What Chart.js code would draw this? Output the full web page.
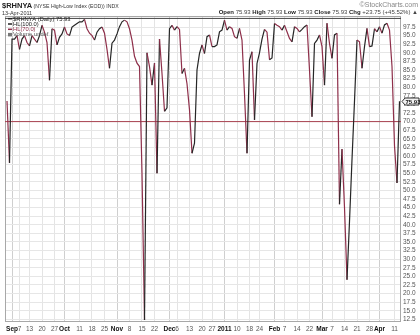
<!DOCTYPE html>
<html>
<head>
<meta charset="utf-8">
<script src="https://cdn.jsdelivr.net/npm/chart.js@4.4.0/dist/chart.umd.min.js"></script>
<style>
  html, body { margin: 0; padding: 0; background: #fff; }
  canvas { display: block; }
</style>
</head>
<body>
<canvas id="chart" width="420" height="335"></canvas>
<script>
// $RHNYA daily values, 30-Aug-2010 .. 13-Apr-2011 (one per trading day)
const values = [
  76, 58, 94, 94, 95, 91, 94, 95, 93, 92,
  95, 94, 93, 95, 98, 96, 93, 82, 97, 96.6,
  92.3, 94.5, 95.5, 97.5, 95.5, 95, 97.5, 98, 98.5, 99,
  99, 99.7, 97, 95.7, 95, 93.7, 96, 97, 97.5, 95.7,
  91, 85.5, 92.8, 93.7, 95.5, 97.6, 99, 99.5, 99, 97,
  93.7, 89, 87, 86, 55, 12.3, 90, 86, 80.6, 87,
  55, 94, 84, 73, 74, 97, 98, 96.6, 97.6, 96.8,
  84, 85.5, 81, 73.4, 60.8, 63.7, 85, 89.8, 92.3, 89.8,
  94.7, 95.2, 91.8, 91.8, 92.3, 96.1, 96.6, 99.5, 96.6, 97.6,
  97.1, 94.7, 94.2, 97.1, 93.7, 78, 60.8, 87.9, 90.3, 70.5,
  86.9, 90, 94, 96.8, 96, 88, 88.5, 98.5, 98, 97.6,
  96.6, 98, 96.1, 94.2, 93.2, 97.6, 97.1, 96.1, 96.8, 97.6,
  98.1, 85, 71.4, 92.7, 93.7, 95.2, 91.8, 80.6, 98.6, 92.7,
  88.4, 95.2, 95.7, 46, 62, 45, 24, 41, 59, 76,
  93.7, 93.2, 85.5, 91.8, 97.1, 91.8, 92, 97, 96.1, 97.6,
  95.7, 98.1, 98.6, 96.6, 86, 63, 52.18, 75.93
];

// x-axis ticks: trading-day index and label
const tickPos  = [2, 5, 9, 14, 19, 23, 29, 34, 39, 44, 49, 54, 59, 65, 68, 73, 78, 82,
                  87, 92, 97, 101, 107, 111, 116, 121, 126, 130, 135, 140, 145, 149, 155];
const tickText = ['Sep', '7', '13', '20', '27', 'Oct', '11', '18', '25', 'Nov', '8', '15', '22',
                  'Dec', '6', '13', '20', '27', '2011', '10', '18', '24', 'Feb', '7', '14', '22',
                  'Mar', '7', '14', '21', '28', 'Apr', '11'];
const monthLabels = ['Sep', 'Oct', 'Nov', 'Dec', '2011', 'Feb', 'Mar', 'Apr'];

const yTicks = [12.5, 15, 17.5, 20, 22.5, 25, 27.5, 30, 32.5, 35, 37.5, 40, 42.5, 45, 47.5,
                50, 52.5, 55, 57.5, 60, 62.5, 65, 67.5, 70, 72.5, 75, 77.5, 80, 82.5, 85,
                87.5, 90, 92.5, 95, 97.5];

const hlHigh = 100;
const hlLow = 70;

const X_MIN = -0.8, X_MAX = 157.6;
const FONT = '"Liberation Sans", Arial, sans-serif';
const UP = '#262626';
const DOWN = '#8e2f4a';

function drawRuns(ctx, x, y, parts, align) {
  // parts: [text, size, bold, color]
  let total = 0;
  parts.forEach(p => {
    ctx.font = (p[2] ? 'bold ' : '') + p[1] + 'px ' + FONT;
    p.w = ctx.measureText(p[0]).width;
    total += p.w;
  });
  let cx = align === 'right' ? x - total : x;
  ctx.textAlign = 'left';
  ctx.textBaseline = 'alphabetic';
  parts.forEach(p => {
    ctx.font = (p[2] ? 'bold ' : '') + p[1] + 'px ' + FONT;
    ctx.fillStyle = p[3] || '#222';
    ctx.fillText(p[0], cx, y);
    cx += p.w;
  });
}

const textPlugin = {
  id: 'texts',
  beforeDatasetsDraw(chart) {
    const { ctx, chartArea: a } = chart;
    ctx.save();
    ctx.strokeStyle = '#a8a8a8';
    ctx.lineWidth = 1;
    ctx.strokeRect(a.left + 0.5, a.top + 0.5, a.right - a.left - 1, a.bottom - a.top - 1);
    ctx.restore();
  },
  afterDraw(chart) {
    const { ctx, chartArea: a } = chart;
    ctx.save();
    // header
    drawRuns(ctx, 2, 8, [['$RHNYA', 7.5, true], [' (NYSE High-Low Index (EOD)) INDX', 5.2, false, '#333']]);
    drawRuns(ctx, 2, 14.5, [['13-Apr-2011', 5.5, false, '#333']]);
    drawRuns(ctx, 418, 7, [['\u00a9StockCharts.com', 7, false, '#888']], 'right');
    drawRuns(ctx, 418, 14, [
      ['Open ', 6, true], ['75.93 ', 6, false, '#444'],
      ['High ', 6, true], ['75.93 ', 6, false, '#444'],
      ['Low ', 6, true], ['75.93 ', 6, false, '#444'],
      ['Close ', 6, true], ['75.93 ', 6, false, '#444'],
      ['Chg ', 6, true], ['+23.75 (+45.52%) \u25B2', 6, false, '#444']
    ], 'right');

    // legend
    const rows = [
      ['$RHNYA (Daily) 75.93', '#222', '#222'],
      ['HL(100.0)', '#222', '#222'],
      ['HL(70.0)', DOWN, DOWN],
      ['Volume undef', null, '#555']
    ];
    rows.forEach((r, i) => {
      const y = a.top + 4.5 + i * 5.3;
      if (r[1]) {
        ctx.strokeStyle = r[1];
        ctx.lineWidth = 1.5;
        ctx.beginPath();
        ctx.moveTo(a.left + 3, y - 1.8);
        ctx.lineTo(a.left + 7, y - 1.8);
        ctx.stroke();
      } else {
        ctx.fillStyle = '#777';
        ctx.fillRect(a.left + 3, y - 3.5, 4, 3.5);
      }
      drawRuns(ctx, a.left + 8, y, [[r[0], 5.8, false, r[2]]]);
    });

    // last value tag on the right axis
    const last = values[values.length - 1];
    const ty = Math.round(chart.scales.y.getPixelForValue(last)) + 0.5;
    const tx = a.right + 1;
    ctx.fillStyle = '#f2f2f2';
    ctx.strokeStyle = '#333';
    ctx.lineWidth = 1;
    ctx.beginPath();
    ctx.moveTo(tx, ty);
    ctx.lineTo(tx + 3, ty - 3.5);
    ctx.lineTo(tx + 17, ty - 3.5);
    ctx.lineTo(tx + 17, ty + 3.5);
    ctx.lineTo(tx + 3, ty + 3.5);
    ctx.closePath();
    ctx.fill();
    ctx.stroke();
    ctx.fillStyle = '#111';
    ctx.font = 'bold 6px ' + FONT;
    ctx.textBaseline = 'middle';
    ctx.fillText(last.toFixed(2), tx + 3.5, ty + 0.5);
    ctx.restore();
  }
};

const ctx = document.getElementById('chart').getContext('2d');
new Chart(ctx, {
  type: 'line',
  data: {
    datasets: [
      {
        label: '$RHNYA (Daily)',
        data: values.map((v, i) => ({ x: i, y: v })),
        borderWidth: 1.2,
        pointRadius: 0,
        tension: 0,
        borderColor: UP,
        segment: {
          borderColor: c => c.p1.parsed.y >= c.p0.parsed.y ? UP : DOWN
        }
      },
      {
        label: 'HL(100.0)',
        data: [{ x: X_MIN, y: hlHigh }, { x: X_MAX, y: hlHigh }],
        borderColor: '#444',
        borderWidth: 1,
        pointRadius: 0
      },
      {
        label: 'HL(70.0)',
        data: [{ x: X_MIN, y: hlLow }, { x: X_MAX, y: hlLow }],
        borderColor: '#a8404f',
        borderWidth: 1,
        pointRadius: 0
      }
    ]
  },
  options: {
    responsive: false,
    animation: false,
    devicePixelRatio: 1,
    layout: { padding: { left: 5, top: 16, right: 0, bottom: 0 } },
    plugins: {
      legend: { display: false },
      tooltip: { enabled: false }
    },
    scales: {
      x: {
        type: 'linear',
        min: X_MIN,
        max: X_MAX,
        afterBuildTicks: s => { s.ticks = tickPos.map(v => ({ value: v })); },
        afterFit: s => { s.height = 13; },
        border: { display: false },
        grid: {
          drawTicks: false,
          color: c => (c.tick && monthLabels.includes(tickText[c.index])) ? '#cfcfcf' : '#e4e4e4'
        },
        ticks: {
          autoSkip: false,
          maxRotation: 0,
          padding: 3,
          callback: (v, i) => tickText[i],
          color: c => monthLabels.includes(tickText[c.index]) ? '#111' : '#555',
          font: c => ({
            family: FONT,
            size: 6.5,
            weight: monthLabels.includes(tickText[c.index]) ? 'bold' : 'normal'
          })
        }
      },
      y: {
        position: 'right',
        min: 11.74,
        max: 100.7,
        afterBuildTicks: s => { s.ticks = yTicks.map(v => ({ value: v })); },
        afterFit: s => { s.width = 19; },
        border: { display: false },
        grid: { drawTicks: false, color: '#e6e6e6' },
        ticks: {
          autoSkip: false,
          padding: 2,
          color: '#555',
          font: { family: FONT, size: 6.5 },
          callback: v => v.toFixed(1)
        }
      }
    }
  },
  plugins: [textPlugin]
});
</script>
</body>
</html>
